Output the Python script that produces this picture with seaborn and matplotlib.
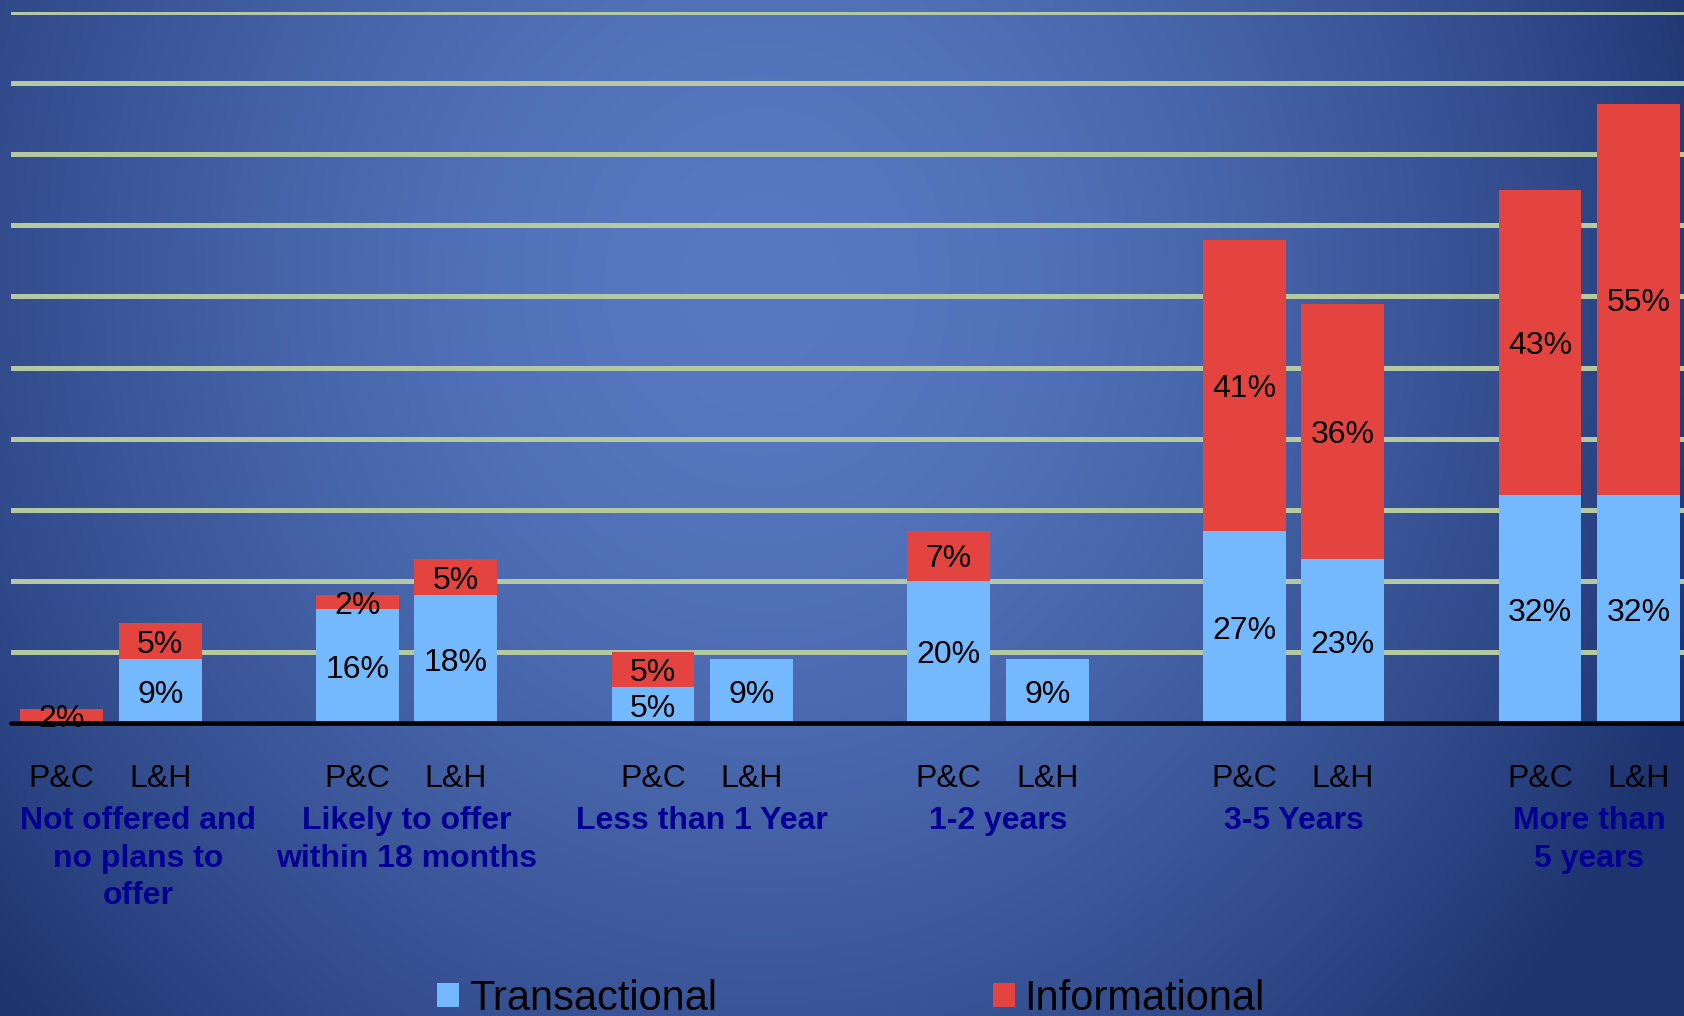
import numpy as np
import pandas as pd
import matplotlib
matplotlib.use("Agg")
import matplotlib.pyplot as plt
import seaborn as sns
from matplotlib.patches import Patch

# ---------------- data ----------------
groups = ["Not offered and\nno plans to\noffer",
          "Likely to offer\nwithin 18 months",
          "Less than 1 Year",
          "1-2 years",
          "3-5 Years",
          "More than\n5 years"]
segments = ["P&C", "L&H"]
transactional_pc = [0, 16, 5, 20, 27, 32]
transactional_lh = [9, 18, 9, 9, 23, 32]
informational_pc = [2, 2, 5, 7, 41, 43]
informational_lh = [5, 5, 0, 0, 36, 55]
series_names = ["Transactional", "Informational"]
y_ticks = list(range(0, 101, 10))

# ---------------- style ----------------
BLUE = "#74B8FD"
RED = "#E44440"
GRID = "#B5C9A0"
NAVY = "#000092"

sns.set_style("white")
plt.rcParams["font.family"] = ["Liberation Sans", "DejaVu Sans"]
plt.rcParams["text.color"] = "black"

rows = []
for g, name in enumerate(groups):
    for s, seg in enumerate(segments):
        t = (transactional_pc if s == 0 else transactional_lh)[g]
        i = (informational_pc if s == 0 else informational_lh)[g]
        rows.append(dict(group=name, segment=seg, pos=3 * g + s,
                         transactional=t, informational=i, total=t + i))
df = pd.DataFrame(rows)

W, H = 1684, 1016
fig = plt.figure(figsize=(W / 100, H / 100), dpi=100)

# background radial gradient
bg = fig.add_axes([0, 0, 1, 1], zorder=-10)
yy, xx = np.mgrid[0:H:4, 0:W:4]
r = np.sqrt(((xx - 760) / 1000.0) ** 2 + ((yy - 280) / 1100.0) ** 2)
t = np.clip(r, 0, 1) ** 1.6
c0 = np.array([88, 121, 194]) / 255.0
c1 = np.array([30, 52, 112]) / 255.0
img = c0[None, None, :] * (1 - t[..., None]) + c1[None, None, :] * t[..., None]
bg.imshow(img, extent=[0, W, H, 0], aspect="auto", interpolation="bilinear")
bg.set_axis_off()

ax = fig.add_axes([11 / W, 293 / H, 1 - 11 / W, 711 / H])
ax.set_facecolor("none")

sns.barplot(data=df, x="pos", y="total", native_scale=True, orient="x",
            color=RED, saturation=1, width=0.84, errorbar=None,
            linewidth=0, ax=ax, zorder=2)
sns.barplot(data=df, x="pos", y="transactional", native_scale=True, orient="x",
            color=BLUE, saturation=1, width=0.84, errorbar=None,
            linewidth=0, ax=ax, zorder=2)

# value labels
for _, rrow in df.iterrows():
    if rrow.transactional > 0:
        ax.text(rrow.pos, rrow.transactional / 2, f"{rrow.transactional}%",
                ha="center", va="center_baseline", fontsize=23, color="black", zorder=5)
    if rrow.informational > 0:
        ax.text(rrow.pos, rrow.transactional + rrow.informational / 2,
                f"{rrow.informational}%", ha="center", va="center_baseline",
                fontsize=23, color="black", zorder=5)

ax.set_ylim(0, 100)
ax.set_xlim(-0.514, 16.462)
ax.set_yticks(y_ticks)
ax.set_yticklabels([])
ax.yaxis.grid(True, color=GRID, linewidth=3.6)
ax.xaxis.grid(False)
ax.set_axisbelow(True)
for sp in ax.spines.values():
    sp.set_visible(False)
ax.axhline(0, color="black", linewidth=3.4, zorder=4, clip_on=False)

ax.set_xticks(df.pos.tolist())
ax.set_xticklabels(df.segment.tolist(), fontsize=23, color="black")
ax.tick_params(axis="x", length=0, pad=29.5)
ax.tick_params(axis="y", length=0)
ax.set_xlabel("")
ax.set_ylabel("")

# group labels
trans = ax.get_xaxis_transform()
glabels = []
for g, name in enumerate(groups):
    tx = ax.text(3 * g + 0.5, -(806 - 723) / 711, name, transform=trans,
                 ha="center", va="top", fontsize=23, fontweight="bold",
                 color=NAVY, linespacing=1.33)
    glabels.append(tx)

fig.canvas.draw()
renderer = fig.canvas.get_renderer()
for tx in glabels:
    bb = tx.get_window_extent(renderer)
    if bb.x0 < 20:
        dx_px = 20 - bb.x0
        x_disp = ax.transData.transform((tx.get_position()[0], 0))[0] + dx_px
        tx.set_x(ax.transData.inverted().transform((x_disp, 0))[0])

handles = [Patch(facecolor=BLUE, edgecolor="none"), Patch(facecolor=RED, edgecolor="none")]
fig.legend(handles, series_names, loc="upper left",
           bbox_to_anchor=(437 / W, 1 - 979 / H), ncol=2, frameon=False,
           fontsize=30, handlelength=0.52, handleheight=0.5, labelcolor="black",
           handletextpad=0.24, columnspacing=6.63, borderpad=0, borderaxespad=0)

fig.savefig("out.png", dpi=100)
